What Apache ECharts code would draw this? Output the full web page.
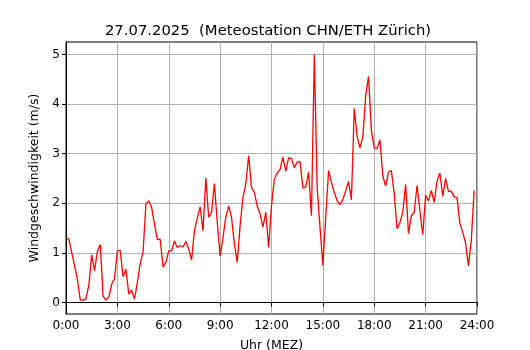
<!DOCTYPE html>
<html>
<head>
<meta charset="utf-8">
<script src="https://cdn.jsdelivr.net/npm/echarts@6/dist/echarts.min.js"></script>
<style>
  html, body { margin: 0; padding: 0; background: #fff; }
  #chart { width: 530px; height: 350px; }
</style>
</head>
<body>
<div id="chart"></div>
<script>
// Windgeschwindigkeit in m/s, 10-Minuten-Werte ab 0:00
var windSpeed = [
  1.30, 1.28, 1.01, 0.74, 0.47, 0.05, 0.05, 0.08, 0.35, 0.96, 0.64, 1.03,
  1.17, 0.13, 0.05, 0.11, 0.37, 0.48, 1.04, 1.05, 0.52, 0.67, 0.17, 0.25,
  0.07, 0.40, 0.78, 1.02, 1.99, 2.05, 1.92, 1.58, 1.27, 1.28, 0.72, 0.81,
  1.04, 1.04, 1.24, 1.11, 1.15, 1.12, 1.23, 1.08, 0.86, 1.45, 1.70, 1.93,
  1.45, 2.51, 1.72, 1.82, 2.40, 1.62, 0.94, 1.31, 1.72, 1.95, 1.72, 1.18,
  0.81, 1.55, 2.12, 2.39, 2.96, 2.32, 2.22, 1.95, 1.79, 1.52, 1.82, 1.11,
  1.95, 2.49, 2.61, 2.68, 2.93, 2.65, 2.92, 2.90, 2.72, 2.83, 2.84, 2.31,
  2.33, 2.63, 1.75, 5.00, 2.32, 1.52, 0.75, 1.72, 2.66, 2.42, 2.22, 2.05,
  1.97, 2.08, 2.25, 2.44, 2.07, 3.91, 3.35, 3.12, 3.34, 4.16, 4.56, 3.47,
  3.11, 3.10, 3.28, 2.55, 2.35, 2.63, 2.66, 2.20, 1.49, 1.61, 1.82, 2.38,
  1.39, 1.75, 1.82, 2.36, 1.85, 1.37, 2.16, 2.05, 2.26, 2.02, 2.45, 2.61,
  2.14, 2.50, 2.24, 2.24, 2.13, 2.12, 1.60, 1.42, 1.20, 0.74, 1.25, 2.26
];
var xTicks = [0, 3, 6, 9, 12, 15, 18, 21, 24];
var yTicks = [0, 1, 2, 3, 4, 5];

var chart = echarts.init(document.getElementById("chart"));

var points = [];
for (var i = 0; i < windSpeed.length; i++) {
  points.push([i / 6, windSpeed[i]]);
}

var font = "DejaVu Sans";

var option = {
  animation: false,
  backgroundColor: "#fff",
  title: {
    text: "27.07.2025  (Meteostation CHN/ETH Zürich)",
    left: 263,
    textAlign: "center",
    top: 19,
    textStyle: { fontFamily: font, fontSize: 14.8, fontWeight: "normal", color: "#000" }
  },
  grid: {
    left: 66, right: 53, top: 42, bottom: 36,
    outerBoundsMode: "none",
    containLabel: false,
    show: true, borderColor: "#000", borderWidth: 1, backgroundColor: "transparent"
  },
  xAxis: {
    type: "value",
    min: 0, max: 24, interval: 3,
    name: "Uhr (MEZ)",
    nameLocation: "middle",
    nameGap: 25,
    nameTextStyle: { fontFamily: font, fontSize: 12.5, color: "#000" },
    axisLine: { show: true, lineStyle: { color: "#000", width: 1 } },
    axisTick: { show: true, inside: false, length: 4, lineStyle: { color: "#000" } },
    axisLabel: {
      fontFamily: font, fontSize: 12, color: "#000", margin: 6,
      formatter: function (v) { return v + ":00"; }
    },
    splitLine: { show: true, lineStyle: { color: "#b0b0b0", width: 1 } }
  },
  yAxis: {
    type: "value",
    min: -0.23, max: 5.25,
    name: "Windgeschwindigkeit (m/s)",
    nameLocation: "middle",
    nameGap: 24,
    nameTextStyle: { fontFamily: font, fontSize: 12.5, color: "#000" },
    axisLine: { show: true, lineStyle: { color: "#000", width: 1 } },
    axisTick: { show: true, length: 4, customValues: yTicks, lineStyle: { color: "#000" } },
    axisLabel: {
      fontFamily: font, fontSize: 12, color: "#000", margin: 6,
      customValues: yTicks
    },
    splitLine: { show: true, lineStyle: { color: "#b0b0b0", width: 1 } }
  },
  series: [
    {
      type: "line",
      data: points,
      showSymbol: false,
      lineStyle: { color: "#ff0000", width: 1.3 },
      itemStyle: { color: "#ff0000" }
    }
  ]
};

chart.setOption(option);
</script>
</body>
</html>
